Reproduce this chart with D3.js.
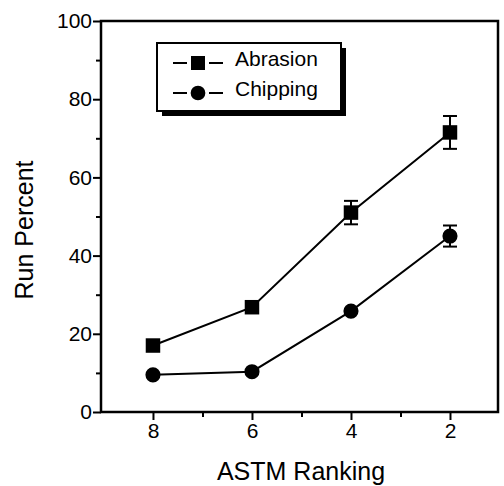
<!DOCTYPE html>
<html>
<head>
<meta charset="utf-8">
<script src="https://cdn.jsdelivr.net/npm/d3@7"></script>
<style>
  body { margin: 0; background: #fff; }
  svg { font-family: "Liberation Sans", Arial, sans-serif; }
</style>
</head>
<body>
<svg id="chart" width="504" height="486"></svg>
<script>
// ASTM ranking vs run percent
var rankings = [8, 6, 4, 2];
var abrasion = [17, 26.8, 51, 71.5];
var abrasionErr = [0, 0, 3, 4.2];
var chipping = [9.5, 10.3, 25.8, 45];
var chippingErr = [0, 0, 0, 2.7];
var yTicks = [0, 20, 40, 60, 80, 100];
var seriesNames = ["Abrasion", "Chipping"];

var svg = d3.select("#chart"),
    margin = { top: 21, right: 6, bottom: 74, left: 101 },
    width = 504 - margin.left - margin.right,
    height = 486 - margin.top - margin.bottom;

var x = d3.scaleLinear().domain([9.05, 1.03]).range([0, width]);
var y = d3.scaleLinear().domain([0, 100]).range([height, 0]);

var g = svg.append("g").attr("transform", "translate(" + margin.left + "," + margin.top + ")");

// frame
g.append("rect")
    .attr("width", width).attr("height", height)
    .attr("fill", "none").attr("stroke", "#000").attr("stroke-width", 2.5);

// left axis, major + minor
var ya = g.append("g").call(d3.axisLeft(y).tickValues(yTicks).tickSize(8).tickPadding(1));
ya.select(".domain").remove();
ya.selectAll(".tick line").attr("stroke-width", 2);
ya.selectAll("text").attr("font-size", 21).attr("fill", "#000");
g.append("g").call(d3.axisLeft(y).tickValues([10, 30, 50, 70, 90]).tickSize(5).tickFormat(""))
    .call(function(s) { s.select(".domain").remove(); s.selectAll("line").attr("stroke-width", 2); });

// bottom axis
var xa = g.append("g").attr("transform", "translate(0," + height + ")")
    .call(d3.axisBottom(x).tickValues(rankings).tickSize(8).tickPadding(3));
xa.select(".domain").remove();
xa.selectAll(".tick line").attr("stroke-width", 2);
xa.selectAll("text").attr("font-size", 21).attr("fill", "#000");
g.append("g").attr("transform", "translate(0," + height + ")")
    .call(d3.axisBottom(x).tickValues([7, 5, 3]).tickSize(5).tickFormat(""))
    .call(function(s) { s.select(".domain").remove(); s.selectAll("line").attr("stroke-width", 2); });

// titles
svg.append("text")
    .attr("x", 301).attr("y", 480)
    .attr("text-anchor", "middle").attr("font-size", 25)
    .text("ASTM Ranking");
svg.append("text")
    .attr("transform", "translate(33,230) rotate(-90)")
    .attr("text-anchor", "middle").attr("font-size", 25)
    .text("Run Percent");

var line = d3.line()
    .x(function(d, i) { return x(rankings[i]); })
    .y(function(d) { return y(d); });

function drawSeries(vals, errs, shape) {
    g.append("path").datum(vals)
        .attr("d", line).attr("fill", "none").attr("stroke", "#000").attr("stroke-width", 2);

    var eb = g.append("g");
    vals.forEach(function(v, i) {
        if (!errs[i]) return;
        var cx = x(rankings[i]);
        eb.append("line").attr("x1", cx).attr("x2", cx)
            .attr("y1", y(v - errs[i])).attr("y2", y(v + errs[i]))
            .attr("stroke", "#000").attr("stroke-width", 2);
        [v - errs[i], v + errs[i]].forEach(function(e) {
            eb.append("line").attr("x1", cx - 7).attr("x2", cx + 7)
                .attr("y1", y(e)).attr("y2", y(e))
                .attr("stroke", "#000").attr("stroke-width", 2);
        });
    });

    g.selectAll(null).data(vals).enter().append("path")
        .attr("transform", function(d, i) { return "translate(" + x(rankings[i]) + "," + y(d) + ")"; })
        .attr("d", d3.symbol().type(shape).size(shape === d3.symbolSquare ? 210 : 180))
        .attr("fill", "#000");
}

drawSeries(abrasion, abrasionErr, d3.symbolSquare);
drawSeries(chipping, chippingErr, d3.symbolCircle);

// legend
var lg = svg.append("g");
lg.append("rect").attr("x", 162).attr("y", 48).attr("width", 184).attr("height", 68).attr("fill", "#000");
lg.append("rect").attr("x", 157).attr("y", 43).attr("width", 184).attr("height", 68)
    .attr("fill", "#fff").attr("stroke", "#000").attr("stroke-width", 2);
[d3.symbolSquare, d3.symbolCircle].forEach(function(shape, i) {
    var ly = 63 + i * 30;
    lg.append("line").attr("x1", 173).attr("x2", 187).attr("y1", ly).attr("y2", ly)
        .attr("stroke", "#000").attr("stroke-width", 2);
    lg.append("line").attr("x1", 209).attr("x2", 223).attr("y1", ly).attr("y2", ly)
        .attr("stroke", "#000").attr("stroke-width", 2);
    lg.append("path").attr("transform", "translate(198," + ly + ")")
        .attr("d", d3.symbol().type(shape).size(shape === d3.symbolSquare ? 196 : 170))
        .attr("fill", "#000");
    lg.append("text").attr("x", 235).attr("y", ly + 3).attr("font-size", 21)
        .text(seriesNames[i]);
});
</script>
</body>
</html>
